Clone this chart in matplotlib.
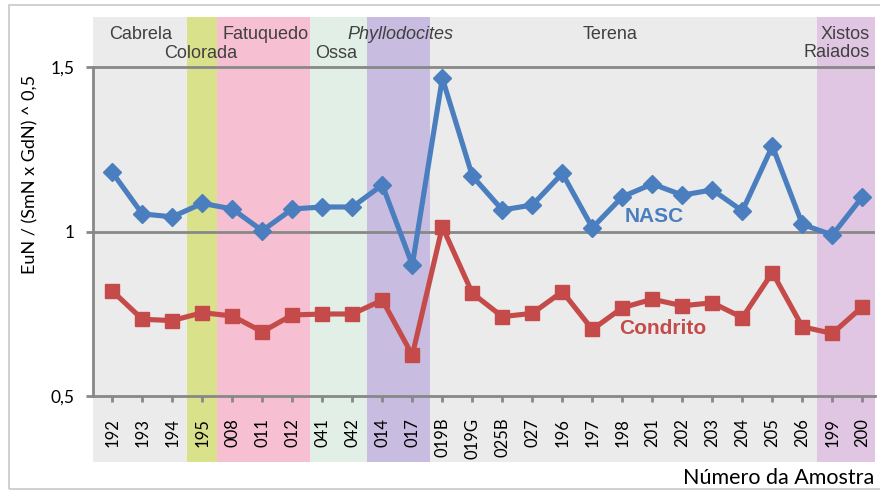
import matplotlib
matplotlib.use("Agg")
import matplotlib.pyplot as plt
from matplotlib.patches import Rectangle

# amostras e razões Eu/Eu* normalizadas
amostras = ["192", "193", "194", "195", "008", "011", "012", "041", "042", "014",
            "017", "019B", "019G", "025B", "027", "196", "197", "198", "201", "202",
            "203", "204", "205", "206", "199", "200"]
nasc = [1.180, 1.054, 1.045, 1.086, 1.069, 1.003, 1.069, 1.075, 1.075, 1.142,
        0.899, 1.466, 1.169, 1.066, 1.081, 1.177, 1.012, 1.106, 1.145, 1.111,
        1.127, 1.063, 1.260, 1.022, 0.990, 1.106]
condrito = [0.820, 0.734, 0.730, 0.754, 0.744, 0.696, 0.747, 0.750, 0.750, 0.792,
            0.625, 1.015, 0.813, 0.742, 0.752, 0.818, 0.703, 0.769, 0.795, 0.775,
            0.784, 0.739, 0.876, 0.711, 0.691, 0.772]

# unidades (faixas de fundo): nome, início, fim, cor
unidades = ["Cabrela", "Colorada", "Fatuquedo", "Ossa", "Phyllodocites", "Terena", "Xistos\nRaiados"]
inicio = [-0.643, 2.5, 3.5, 6.58, 8.5, 10.58, 23.5]
fim = [2.5, 3.5, 6.58, 8.5, 10.58, 23.5, 25.42]
cores = ["#eaebea", "#d9e18b", "#f6c0d2", "#e2efe6", "#c8bde0", "#eaebea", "#e0c6e2"]

fonte = "Lato"
cinza = "#888888"
azul = "#4a7ebf"
vermelho = "#c54b4a"

fig = plt.figure(figsize=(8.8, 4.92), dpi=100)
fig.patches.append(Rectangle((9 / 880, 3 / 492), 880, 484 / 492, transform=fig.transFigure,
                             fill=False, edgecolor="#c8c8c8", linewidth=1.2))
ax = fig.add_axes([93 / 880, 30 / 492, 782 / 880, 445 / 492])
ax.set_facecolor("none")

x = list(range(len(amostras)))
ax.set_xlim(-0.643, 25.42)
ax.set_ylim(0.3005, 1.652)

for a, b, c in zip(inicio, fim, cores):
    ax.axvspan(a, b, color=c, zorder=0, lw=0)

# linhas de grade
for v in [1.0, 1.5]:
    ax.axhline(v, color=cinza, lw=2, zorder=1)

ax.plot(x, nasc, color=azul, lw=3.7, marker="D", ms=9.5, mew=1, zorder=3)
ax.plot(x, condrito, color=vermelho, lw=3.7, marker="s", ms=10.5, mew=1, zorder=3)

for s in ["top", "right"]:
    ax.spines[s].set_visible(False)
ax.spines["left"].set_bounds(0.5, 1.5)
ax.spines["left"].set_color(cinza)
ax.spines["left"].set_linewidth(2)
ax.spines["bottom"].set_position(("data", 0.5))
ax.spines["bottom"].set_color(cinza)
ax.spines["bottom"].set_linewidth(2)

ax.set_yticks([0.5, 1.0, 1.5])
ax.set_yticklabels(["0,5", "1", "1,5"], fontfamily=fonte, fontsize=12.5)
ax.tick_params(axis="y", length=5, width=2, color=cinza, pad=8)
ax.set_xticks(x)
ax.set_xticklabels(amostras, rotation=90, fontfamily=fonte, fontsize=12)
ax.tick_params(axis="x", length=4.5, width=2, color=cinza, pad=11)

# nomes das unidades
txt = dict(fontfamily="Liberation Sans", fontsize=13, color="#404040")
ax.text(0.96, 1.600, "Cabrela", ha="center", va="center", **txt)
ax.text(2.96, 1.5425, "Colorada", ha="center", va="center", **txt)
ax.text(5.11, 1.600, "Fatuquedo", ha="center", va="center", **txt)
ax.text(7.47, 1.5425, "Ossa", ha="center", va="center", **txt)
ax.text(9.62, 1.600, "Phyllodocites", ha="center", va="center", style="italic", **txt)
ax.text(16.59, 1.600, "Terena", ha="center", va="center", **txt)
ax.text(25.23, 1.571, "Xistos\nRaiados", ha="right", va="center", linespacing=1.05, **txt)

# rótulos das séries
ax.text(18.06, 1.0455, "NASC", ha="center", va="center", color=azul,
        fontfamily="Liberation Sans", fontsize=15, fontweight="bold")
ax.text(18.34, 0.706, "Condrito", ha="center", va="center", color=vermelho,
        fontfamily="Liberation Sans", fontsize=15, fontweight="bold")

fig.text(30 / 880, 1 - 174 / 492, "EuN / (SmN x GdN) ^ 0,5", rotation=90,
         ha="center", va="center", fontfamily=fonte, fontsize=13)
fig.text(874 / 880, 1 - 478 / 492, "Número da Amostra", ha="right", va="center",
         fontfamily=fonte, fontsize=15.5)

fig.savefig("out.png", dpi=100)
